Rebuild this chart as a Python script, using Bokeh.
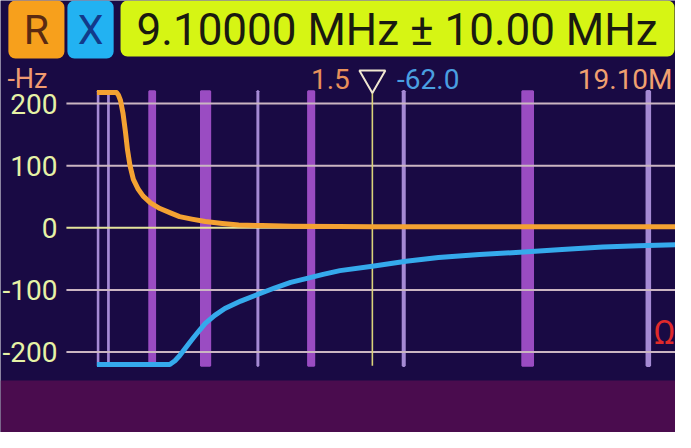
from bokeh.plotting import figure
from bokeh.models import Range1d, Label, BoxAnnotation
from bokeh.embed import file_html
from bokeh.resources import INLINE

# ---------------- data ----------------
center_mhz = 9.1
span_mhz = 10.0
start_label = "-Hz"
stop_label = "19.10M"
marker_mhz = 9.1
marker_r = 1.5
marker_x = -62.0
y_ticks = [200, 100, 0, -100, -200]

# amateur band segments shown as stripes (MHz)
band_lo = [0.1357, 0.472, 1.81, 3.5, 5.3515, 7.0, 10.1, 14.0, 18.068]
band_hi = [0.1378, 0.479, 2.0, 3.8, 5.3665, 7.2, 10.15, 14.35, 18.168]

# R (resistance) trace
r_freq = [0.10, 0.74, 0.80, 0.87, 0.95, 1.03, 1.10, 1.18, 1.29, 1.45, 1.61, 1.85, 2.16, 2.50,
          2.80, 3.20, 3.64, 4.20, 4.73, 5.50, 6.50, 8.00, 9.10, 12.0, 16.0, 19.1]
r_ohm = [218, 218, 214, 205, 185, 155, 125, 100, 78, 62, 51, 40, 31, 24,
         18, 14, 10, 7, 4.5, 3.5, 2.5, 2, 1.5, 1.5, 1.5, 1.5]

# X (reactance) trace
x_freq = [0.10, 2.48, 2.65, 2.80, 3.00, 3.22, 3.45, 3.64, 3.95, 4.28, 4.80, 5.37, 5.90, 6.43,
          7.00, 7.49, 8.04, 9.10, 10.2, 11.26, 12.6, 14.05, 15.3, 16.63, 17.8, 19.1]
x_ohm = [-220, -220, -214, -206, -193, -179, -165, -154, -141, -130, -118, -107, -97, -88,
         -81, -75, -69, -62, -54, -48, -43, -39, -35, -31, -29, -27]

# ---------------- layout helpers ----------------
W, H = 675, 432
REF_W, REF_H = 686.0, 440.0
PX_PER_MHZ = 31.1
X_ANCHOR_PX, X_ANCHOR_F = 154.0, 1.9
PX_PER_OHM = 0.6325
ZERO_PY = 231.5
S = W / REF_W


def fx(px):
    return X_ANCHOR_F + (px - X_ANCHOR_PX) / PX_PER_MHZ


def vy(py):
    return (ZERO_PY - py) / PX_PER_OHM


def fs(px):
    return "%dpx" % round(px * S)


NAVY = "#190a44"
FONT = "Roboto"

p = figure(width=W, height=H, output_backend="svg", toolbar_location=None,
           x_range=Range1d(fx(0), fx(REF_W)), y_range=Range1d(vy(REF_H), vy(0)),
           min_border=0, background_fill_color=NAVY, border_fill_color=NAVY,
           outline_line_color=None)
p.xaxis.visible = False
p.yaxis.visible = False
p.grid.visible = False

STRIPE_TOP, STRIPE_BOT = 220, -222

# band stripes
for lo, hi in zip(band_lo, band_hi):
    wide = (hi - lo) > 0.1
    col = "#9a4cc2" if wide else "#a58ad4"
    p.quad(left=lo, right=hi, bottom=STRIPE_BOT, top=STRIPE_TOP,
           fill_color=col, line_color=col, line_width=2 if wide else 2.5)

# horizontal grid lines
for t in y_ticks:
    col = "#e4e49a" if t == 0 else "#cbb6c2"
    p.segment(x0=fx(67), y0=t, x1=fx(REF_W), y1=t, line_color=col, line_width=2)
    p.add_layout(Label(x=fx(58), y=t, text=str(t), text_align="right",
                       text_baseline="middle", text_color="#e6f2a6",
                       text_font=FONT, text_font_size=fs(28)))

# marker line + triangle
p.segment(x0=marker_mhz, y0=STRIPE_BOT, x1=marker_mhz, y1=vy(89),
          line_color="#d9d27a", line_width=1.6)
p.scatter(x=[marker_mhz], y=[vy(79)], marker="inverted_triangle", size=26,
          fill_color=NAVY, line_color="#efe6d0", line_width=2)

# traces
p.line(r_freq, r_ohm, line_color="#f4a232", line_width=5, line_join="round")
p.line(x_freq, x_ohm, line_color="#35aaec", line_width=5, line_join="round")

# bottom band
p.add_layout(BoxAnnotation(bottom=vy(REF_H), top=vy(387), left=fx(0), right=fx(REF_W),
                           fill_color="#4a0c4e", fill_alpha=1, line_alpha=0))

# header boxes
def hbox(l, r, t, b, col):
    p.add_layout(BoxAnnotation(left=fx(l), right=fx(r), top=vy(t), bottom=vy(b),
                               fill_color=col, fill_alpha=1, line_alpha=0,
                               border_radius=7))

hbox(8, 65, 0, 59, "#f7a01c")
hbox(68, 115, 0, 59, "#22b2f2")
hbox(122, 685, 0, 57, "#d6f514")

p.add_layout(Label(x=fx(36.5), y=vy(30), text="R", text_align="center", text_baseline="middle",
                   text_color="#5a2a12", text_font=FONT, text_font_size=fs(42)))
p.add_layout(Label(x=fx(91.5), y=vy(30), text="X", text_align="center", text_baseline="middle",
                   text_color="#123a8a", text_font=FONT, text_font_size=fs(42)))
header = "%.5f MHz \u00b1 %.2f MHz" % (center_mhz, span_mhz)
p.add_layout(Label(x=fx(403), y=vy(30), text=header, text_align="center", text_baseline="middle",
                   text_color="#1a1a10", text_font=FONT, text_font_size=fs(45)))

# info row
p.add_layout(Label(x=fx(7), y=vy(80), text=start_label, text_align="left", text_baseline="middle",
                   text_color="#f09a70", text_font=FONT, text_font_size=fs(27)))
p.add_layout(Label(x=fx(355), y=vy(80), text="%.1f" % marker_r, text_align="right",
                   text_baseline="middle", text_color="#e8905a", text_font=FONT,
                   text_font_size=fs(28)))
p.add_layout(Label(x=fx(403), y=vy(80), text="%.1f" % marker_x, text_align="left",
                   text_baseline="middle", text_color="#4a9fe0", text_font=FONT,
                   text_font_size=fs(28)))
p.add_layout(Label(x=fx(683), y=vy(80), text=stop_label, text_align="right",
                   text_baseline="middle", text_color="#f0a070", text_font=FONT,
                   text_font_size=fs(28)))
p.add_layout(Label(x=fx(686), y=vy(338), text="\u03a9", text_align="right",
                   text_baseline="middle", text_color="#e02a2a", text_font=FONT,
                   text_font_size=fs(34)))

open("out.html", "w").write(file_html(p, INLINE))
